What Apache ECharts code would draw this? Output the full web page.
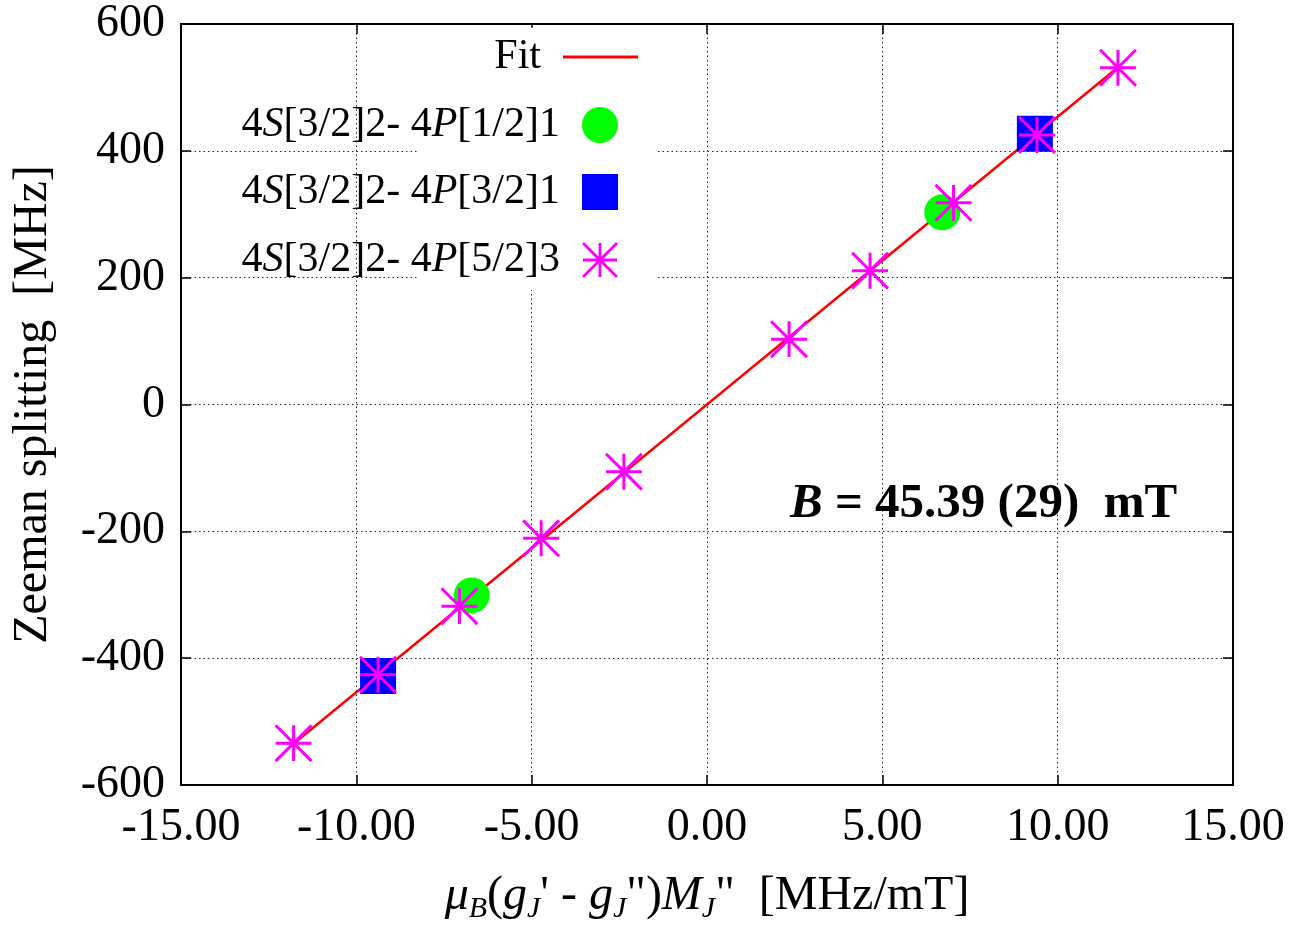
<!DOCTYPE html>
<html>
<head>
<meta charset="utf-8">
<script src="https://cdn.jsdelivr.net/npm/echarts@6/dist/echarts.min.js"></script>
<style>
html,body{margin:0;padding:0;background:#fff;}
#chart{width:1301px;height:929px;}
</style>
</head>
<body>
<div id="chart"></div>
<script>
// ---- data ----
var circleX = [-6.71, 6.71];
var circleY = [-301, 303];
var squareX = [-9.38, 9.35];
var squareY = [-428, 427];
var starX = [-11.79, -9.38, -7.06, -4.73, -2.37, 2.34, 4.65, 7.03, 9.41, 11.72];
var starY = [-534, -426, -318, -211, -106, 103, 211, 318, 425, 531];
var fitX = [-11.79, 11.79];
var fitY = [-535, 535];
var xTicks = {min: -15, max: 15, step: 5};
var yTicks = {min: -600, max: 600, step: 200};
var seriesNames = ['Fit', '4S[3/2]2- 4P[1/2]1', '4S[3/2]2- 4P[3/2]1', '4S[3/2]2- 4P[5/2]3'];
var legendRich = {
  'Fit': 'Fit{g| }',
  '4S[3/2]2- 4P[1/2]1': '4{i|S}[3/2]2- 4{i|P}[1/2]1{g| }',
  '4S[3/2]2- 4P[3/2]1': '4{i|S}[3/2]2- 4{i|P}[3/2]1{g| }',
  '4S[3/2]2- 4P[5/2]3': '4{i|S}[3/2]2- 4{i|P}[5/2]3{g| }'
};
var resultText = '{bi|B} = 45.39 (29)  mT';

function pairs(xs, ys) { return xs.map(function (x, i) { return [x, ys[i]]; }); }

var FONT = '"Liberation Serif", "Times New Roman", serif';
var starPath = 'path://M-18,-1.5 L18,-1.5 L18,1.5 L-18,1.5 Z M-1.5,-18 L1.5,-18 L1.5,18 L-1.5,18 Z ' +
  'M-16.94,-19.06 L19.06,16.94 L16.94,19.06 L-19.06,-16.94 Z ' +
  'M-19.06,16.94 L16.94,-19.06 L19.06,-16.94 L-16.94,19.06 Z';

var legendTextStyle = {
  fontFamily: FONT, fontSize: 42, color: '#000', lineHeight: 44,
  rich: {
    i: {fontFamily: FONT, fontSize: 42, fontStyle: 'italic', color: '#000', lineHeight: 44},
    g: {fontFamily: FONT, fontSize: 42, width: 17, lineHeight: 44}
  }
};
function mkLegend(name, right, top, w, h, icon) {
  return {
    data: [icon ? {name: name, icon: icon} : name],
    orient: 'vertical', align: 'right', right: right, top: top,
    itemWidth: w, itemHeight: h, padding: 0, selectedMode: false,
    textStyle: legendTextStyle,
    formatter: function (n) { return legendRich[n]; }
  };
}

var axisCommon = {
  type: 'value',
  axisLine: {show: true, onZero: false, lineStyle: {color: '#000', width: 2}},
  axisTick: {show: true, inside: true, length: 10, lineStyle: {color: '#000', width: 1.5}},
  splitLine: {show: false}
};

var xMain = Object.assign({}, axisCommon, {
  position: 'bottom', min: xTicks.min, max: xTicks.max, interval: xTicks.step,
  axisLabel: {show: true, margin: 20, fontFamily: FONT, fontSize: 46, color: '#000',
    formatter: function (v) { return v.toFixed(2); }},
  splitLine: {show: true, lineStyle: {color: '#222', width: 1, type: [1.5, 3]}},
  name: '{i|μ}{si|B}({i|g}{si|J}\' - {i|g}{si|J}")' + '{i|M}{si|J}"  [MHz/mT]',
  nameLocation: 'middle', nameGap: 83,
  nameTextStyle: {
    fontFamily: FONT, fontSize: 48, color: '#000', lineHeight: 56,
    rich: {
      i: {fontFamily: FONT, fontSize: 48, fontStyle: 'italic', color: '#000', lineHeight: 56},
      si: {fontFamily: FONT, fontSize: 30, fontStyle: 'italic', color: '#000', lineHeight: 34, verticalAlign: 'bottom'}
    }
  }
});
var xTop = Object.assign({}, axisCommon, {
  position: 'top', min: xTicks.min, max: xTicks.max, interval: xTicks.step,
  axisLabel: {show: false}
});
var yMain = Object.assign({}, axisCommon, {
  position: 'left', min: yTicks.min, max: yTicks.max, interval: yTicks.step,
  axisLabel: {show: true, margin: 16, fontFamily: FONT, fontSize: 46, color: '#000'},
  splitLine: {show: true, lineStyle: {color: '#222', width: 1, type: [1.5, 3]}},
  name: 'Zeeman splitting  [MHz]', nameLocation: 'middle', nameGap: 124,
  nameTextStyle: {fontFamily: FONT, fontSize: 48, color: '#000', lineHeight: 48}
});
var yRight = Object.assign({}, axisCommon, {
  position: 'right', min: yTicks.min, max: yTicks.max, interval: yTicks.step,
  axisLabel: {show: false}
});

var option = {
  animation: false,
  backgroundColor: '#fff',
  grid: {left: 181, top: 24, width: 1052, height: 768},
  xAxis: [xMain, xTop],
  yAxis: [yMain, yRight],
  legend: [
    mkLegend(seriesNames[0], 663, 35, 75, 3, 'rect'),
    mkLegend(seriesNames[1], 683, 103, 36, 36),
    mkLegend(seriesNames[2], 683, 170, 36, 36),
    mkLegend(seriesNames[3], 683, 238, 36, 36)
  ],
  graphic: [{
    type: 'text', left: 790, top: 480, z: 100,
    style: {
      text: resultText, fill: '#000',
      fontFamily: FONT, fontSize: 49, fontWeight: 'bold',
      rich: {
        bi: {fontFamily: FONT, fontSize: 49, fontWeight: 'bold', fontStyle: 'italic', fill: '#000'}
      }
    }
  }],
  series: [
    {
      name: seriesNames[0], type: 'line', data: pairs(fitX, fitY),
      showSymbol: false, symbol: 'none', z: 2,
      color: '#ff0000',
      lineStyle: {color: '#ff0000', width: 2.5},
      markArea: {
        silent: true, z: 1,
        itemStyle: {color: '#ffffff', opacity: 1},
        data: [[{xAxis: -8.24, yAxis: 180}, {xAxis: -1.48, yAxis: 594}]]
      }
    },
    {
      name: seriesNames[1], type: 'scatter', data: pairs(circleX, circleY),
      symbol: 'circle', symbolSize: 36, z: 3,
      itemStyle: {color: '#00ff00', opacity: 1}
    },
    {
      name: seriesNames[2], type: 'scatter', data: pairs(squareX, squareY),
      symbol: 'rect', symbolSize: 36, z: 4,
      itemStyle: {color: '#0000ff', opacity: 1}
    },
    {
      name: seriesNames[3], type: 'scatter', data: pairs(starX, starY),
      symbol: starPath, symbolSize: 38, z: 5,
      itemStyle: {color: '#ff00ff', opacity: 1}
    }
  ]
};

var chart = echarts.init(document.getElementById('chart'), null, {renderer: 'canvas'});
chart.setOption(option);
</script>
</body>
</html>
